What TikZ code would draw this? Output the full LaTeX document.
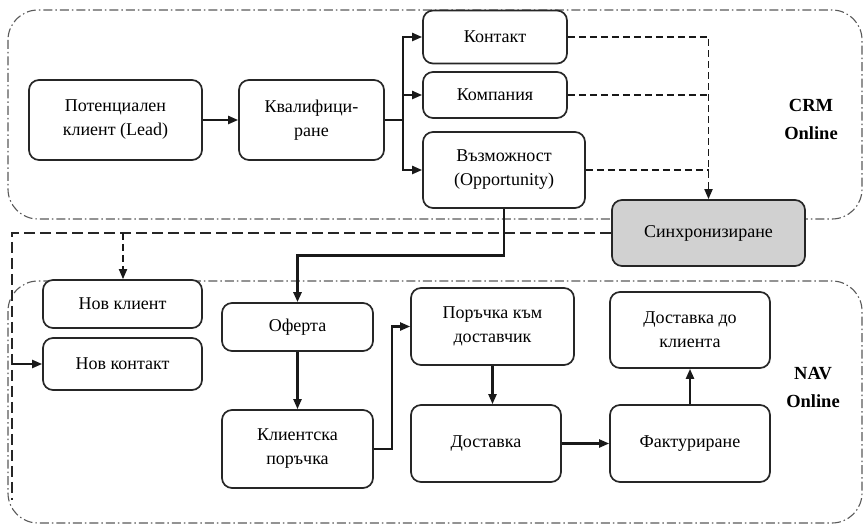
\documentclass[tikz,border=0pt]{standalone}
\usepackage{fontspec}
\setmainfont{Liberation Serif}
\usetikzlibrary{arrows.meta}

\tikzset{
  box/.style={draw=black!85, line width=1.7pt, rounded corners=10pt, fill=white,
    align=center, inner sep=2pt, font=\fontsize{18}{24}\selectfont},
  syncbox/.style={box, fill=black!18},
  flow/.style={draw=black!90, line width=2.2pt, -{Triangle[length=10pt,width=8pt]}},
  link/.style={draw=black!90, line width=2.2pt},
  syncline/.style={draw=black!90, line width=1.8pt, dash pattern=on 7pt off 4pt},
  frameline/.style={draw=black!85, line width=2.2pt, dash pattern=on 11pt off 5pt},
  region/.style={draw=black!65, line width=1.1pt, rounded corners=30pt,
    dash pattern=on 9pt off 3pt on 1.5pt off 3pt},
  regionlabel/.style={font=\fontsize{18.5}{28}\selectfont\bfseries, align=center},
}

\begin{document}
\begin{tikzpicture}[x=1pt, y=-1pt]
\useasboundingbox (0,0) rectangle (864,529);

% system areas
\draw[region] (8,10) rectangle (862,219);
\draw[region] (8,281) rectangle (862,523);
\node[regionlabel] (crmlbl) at (811,119) {CRM\\Online};
\node[regionlabel] (navlbl) at (813,387) {NAV\\Online};

% CRM side
\node[box, minimum width=173pt, minimum height=80pt] (lead) at (115.5,120) {Потенциален\\клиент (Lead)};
\node[box, minimum width=145pt, minimum height=80pt] (qual) at (311.5,120) {Квалифици-\\ране};
\node[box, minimum width=144pt, minimum height=53pt] (contact) at (495,37) {Контакт};
\node[box, minimum width=144pt, minimum height=46pt] (company) at (495,95) {Компания};
\node[box, minimum width=162pt, minimum height=76pt] (opp) at (504,170) {Възможност\\(Opportunity)};
\node[syncbox, minimum width=193pt, minimum height=66pt] (sync) at (708.5,233) {Синхронизиране};

% NAV side
\node[box, minimum width=159pt, minimum height=48pt] (newcl) at (122.5,304) {Нов клиент};
\node[box, minimum width=159pt, minimum height=52pt] (newct) at (122.5,364) {Нов контакт};
\node[box, minimum width=151pt, minimum height=48pt] (offer) at (297.5,327) {Оферта};
\node[box, minimum width=151pt, minimum height=78pt] (corder) at (297.5,449) {Клиентска\\поръчка};
\node[box, minimum width=163pt, minimum height=77pt] (porder) at (492.5,326.5) {Поръчка към\\доставчик};
\node[box, minimum width=150pt, minimum height=77pt] (deliv) at (486,443.5) {Доставка};
\node[box, minimum width=160pt, minimum height=76pt] (dclient) at (690,330) {Доставка до\\клиента};
\node[box, minimum width=160pt, minimum height=77pt] (invoice) at (690,443.5) {Фактуриране};

% CRM flow
\coordinate (branch) at (403,120);
\draw[flow] (lead) -- (qual);
\draw[link] (qual.east) -- (branch);
\draw[flow] (branch) |- (contact.west);
\draw[flow] (branch) |- (company.west);
\draw[flow] (branch) |- (opp.west);

% synchronisation links
\draw[syncline, -{Triangle[length=10pt,width=8pt]}] (contact.east) -| (sync.north);
\draw[syncline] (company.east) -- (company.east -| sync.north);
\draw[syncline] (opp.east) -- (opp.east -| sync.north);

% synchronisation frame into NAV
\coordinate (fcorner) at (12,233);
\coordinate (fbottom) at (12,500);
\coordinate (fdrop) at (123,233);
\coordinate (fentry) at (12,364);
\draw[frameline] (sync.west) -- (fcorner) -- (fbottom);
\draw[syncline, -{Triangle[length=10pt,width=8pt]}] (fdrop) -- (newcl.north -| fdrop);
\draw[flow] (fentry) -- (newct.west);

% opportunity to offer
\draw[flow, line width=2.8pt] (opp.south) -- ++(0,47) -| (offer.north);

% NAV flow
\draw[flow] (offer) -- (corder);
\draw[flow] (corder.east) -- ++(18,0) |- (porder.west);
\draw[flow] (porder.south) -- (porder.south |- deliv.north);
\draw[flow] (deliv) -- (invoice);
\draw[flow] (invoice) -- (dclient);
\end{tikzpicture}
\end{document}
